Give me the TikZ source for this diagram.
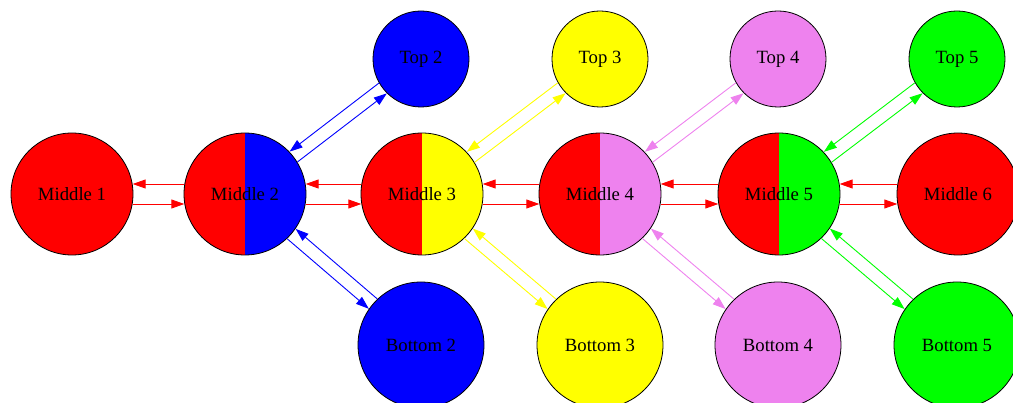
\documentclass[tikz,border=0pt]{standalone}
\usepackage{fontspec}
\setmainfont{Liberation Serif}
\usetikzlibrary{calc,arrows.meta}
\definecolor{gvviolet}{HTML}{EE82EE}
\definecolor{gvgreen}{HTML}{00FF00}
\definecolor{gvyellow}{HTML}{FFFF00}
\definecolor{gvblue}{HTML}{0000FF}
\definecolor{gvred}{HTML}{FF0000}
\tikzset{
  gv/.style={circle, draw=black, line width=0.8pt, inner sep=0pt,
    font=\fontsize{18.7}{22}\selectfont, text=black},
  mid/.style={gv, minimum size=122pt},
  top/.style={gv, minimum size=96pt},
  bot/.style={gv, minimum size=126pt},
  half/.style={fill=#1, path picture={\fill[gvred] (path picture bounding box.south west) rectangle (path picture bounding box.north);}},
  edge/.style={line width=0.9pt, -{Triangle[length=13pt,width=9pt]}},
  redge/.style={line width=0.9pt, {Triangle[length=13pt,width=9pt]}-}
}
% #1 a, #2 b, #3 colour, #4 radius a, #5 radius b, #6 offset
\newcommand\lpair[6]{%
  \draw[redge,#3] let \p1=($(#2)-(#1)$), \n1={atan2(\y1,\x1)},
     \n2={asin(#6/#4)}, \n3={asin(#6/#5)},
     \n4={\n1+\n2}, \n5={\n1+180-\n3} in
     ($(#1)+(canvas polar cs:angle=\n4,radius=#4pt)$) --
     ($(#2)+(canvas polar cs:angle=\n5,radius=#5pt)$);
  \draw[edge,#3] let \p1=($(#2)-(#1)$), \n1={atan2(\y1,\x1)},
     \n2={asin(#6/#4)}, \n3={asin(#6/#5)},
     \n4={\n1-\n2}, \n5={\n1+180+\n3} in
     ($(#1)+(canvas polar cs:angle=\n4,radius=#4pt)$) --
     ($(#2)+(canvas polar cs:angle=\n5,radius=#5pt)$);
}
\begin{document}
\begin{tikzpicture}[x=1pt,y=-1pt]
\useasboundingbox (0,0) rectangle (1013,403);
\node[mid, fill=gvred] (m1) at (72,194) {Middle 1};
\node[mid, half=gvblue] (m2) at (245,194) {Middle 2};
\node[mid, half=gvyellow] (m3) at (422,194) {Middle 3};
\node[mid, half=gvviolet] (m4) at (600,194) {Middle 4};
\node[mid, half=gvgreen] (m5) at (779,194) {Middle 5};
\node[mid, fill=gvred] (m6) at (958,194) {Middle 6};
\node[top, fill=gvblue] (t2) at (421,59) {Top 2};
\node[top, fill=gvyellow] (t3) at (600,59) {Top 3};
\node[top, fill=gvviolet] (t4) at (778,59) {Top 4};
\node[top, fill=gvgreen] (t5) at (957,59) {Top 5};
\node[bot, fill=gvblue] (b2) at (421,345) {Bottom 2};
\node[bot, fill=gvyellow] (b3) at (600,345) {Bottom 3};
\node[bot, fill=gvviolet] (b4) at (778,345) {Bottom 4};
\node[bot, fill=gvgreen] (b5) at (957,345) {Bottom 5};
\lpair{m1}{m2}{gvred}{61.5}{61.5}{10}
\lpair{m2}{m3}{gvred}{61.5}{61.5}{10}
\lpair{m3}{m4}{gvred}{61.5}{61.5}{10}
\lpair{m4}{m5}{gvred}{61.5}{61.5}{10}
\lpair{m5}{m6}{gvred}{61.5}{61.5}{10}
\lpair{m2}{t2}{gvblue}{61.5}{48.5}{6.5}
\lpair{m3}{t3}{gvyellow}{61.5}{48.5}{6.5}
\lpair{m4}{t4}{gvviolet}{61.5}{48.5}{6.5}
\lpair{m5}{t5}{gvgreen}{61.5}{48.5}{6.5}
\lpair{m2}{b2}{gvblue}{61.5}{63.5}{6.5}
\lpair{m3}{b3}{gvyellow}{61.5}{63.5}{6.5}
\lpair{m4}{b4}{gvviolet}{61.5}{63.5}{6.5}
\lpair{m5}{b5}{gvgreen}{61.5}{63.5}{6.5}
\end{tikzpicture}
\end{document}
